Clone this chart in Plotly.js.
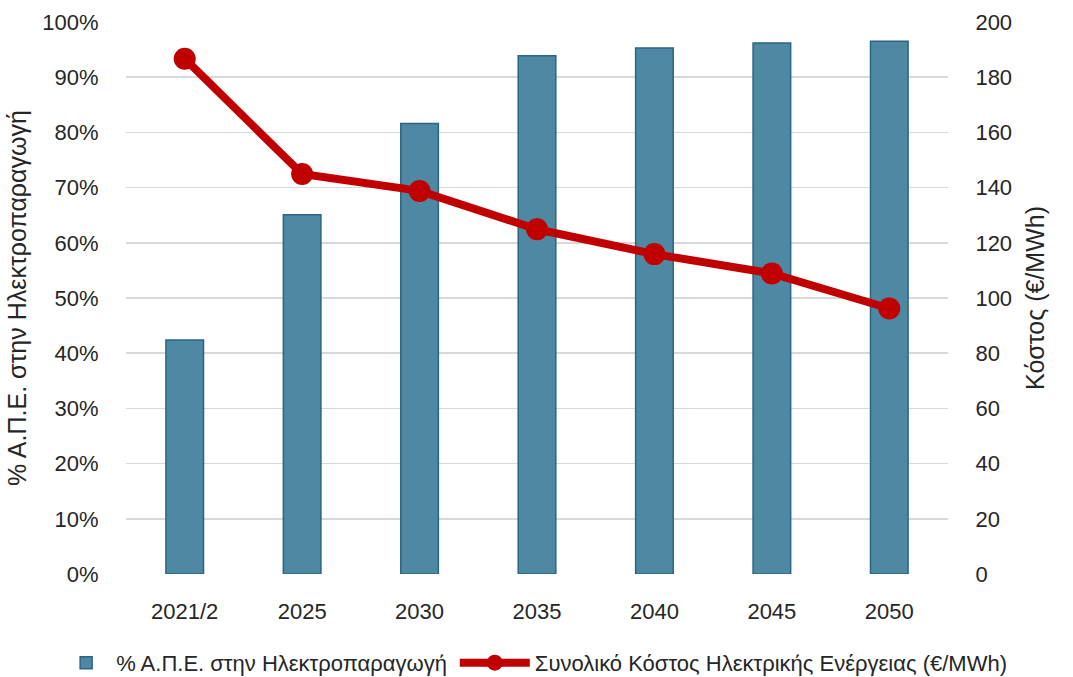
<!DOCTYPE html>
<html>
<head>
<meta charset="utf-8">
<script src="https://cdn.plot.ly/plotly-3.0.1.min.js"></script>
<style>html,body{margin:0;padding:0;background:#fff;}#chart{width:1073px;height:677px;}</style>
</head>
<body>
<div id="chart"></div>
<script>
const categories = ["2021/2", "2025", "2030", "2035", "2040", "2045", "2050"];
const resShare = [42.4, 65.1, 81.6, 93.9, 95.3, 96.2, 96.5];
const totalCost = [186.7, 144.9, 138.8, 124.9, 115.9, 108.9, 96.2];
const barName = "% Α.Π.Ε. στην Ηλεκτροπαραγωγή";
const lineName = "Συνολικό Κόστος Ηλεκτρικής Ενέργειας (€/MWh)";
const leftTitle = "% Α.Π.Ε. στην Ηλεκτροπαραγωγή";
const rightTitle = "Κόστος (€/MWh)";

const font = "Liberation Sans, Arial, sans-serif";
const txt = "#262626";
const clear = "rgba(0,0,0,0)";
const traces = [
  {
    type: "bar", x: categories, y: resShare, name: barName,
    marker: {color: "#4f88a2", line: {color: "#2a6585", width: 1.5}},
    yaxis: "y", legend: "legend"
  },
  {
    type: "scatter", mode: "lines+markers", x: categories, y: totalCost, name: lineName,
    line: {color: "#c00000", width: 8},
    marker: {color: "#c00000", size: 22},
    yaxis: "y2", legend: "legend2"
  }
];
const layout = {
  width: 1073, height: 677,
  margin: {l: 126, r: 125, t: 22, b: 103, autoexpand: false},
  paper_bgcolor: "#fff", plot_bgcolor: "#fff",
  font: {family: font, size: 21, color: txt},
  bargap: 0.68,
  showlegend: true,
  legend: {orientation: "h", xref: "paper", x: -0.085, xanchor: "left",
           yref: "paper", y: -0.161, yanchor: "middle",
           font: {size: 22, color: txt}, itemwidth: 50},
  legend2: {orientation: "h", xref: "paper", x: 0.40, xanchor: "left",
           yref: "paper", y: -0.161, yanchor: "middle",
           font: {size: 22, color: txt}, itemwidth: 70},
  xaxis: {type: "category", showgrid: false, zeroline: false, showline: false,
          ticks: "outside", ticklen: 18, tickcolor: clear, tickfont: {size: 22, color: txt}},
  yaxis: {range: [0, 100], dtick: 10, ticksuffix: "%", gridcolor: "#d9d9d9", gridwidth: 1.5,
          zeroline: false, showline: false, ticks: "outside", ticklen: 22, tickcolor: clear,
          tickfont: {size: 22, color: txt}, automargin: false,
          title: {text: leftTitle, font: {size: 25, color: txt}, standoff: 8}},
  yaxis2: {range: [0, 200], dtick: 20, overlaying: "y", side: "right", showgrid: false,
           zeroline: false, showline: false, ticks: "outside", ticklen: 22, tickcolor: clear,
           tickfont: {size: 22, color: txt}, automargin: false,
           title: {text: rightTitle, font: {size: 25, color: txt}, standoff: 15}}
};
Plotly.newPlot("chart", traces, layout, {displayModeBar: false, staticPlot: true});
</script>
</body>
</html>
